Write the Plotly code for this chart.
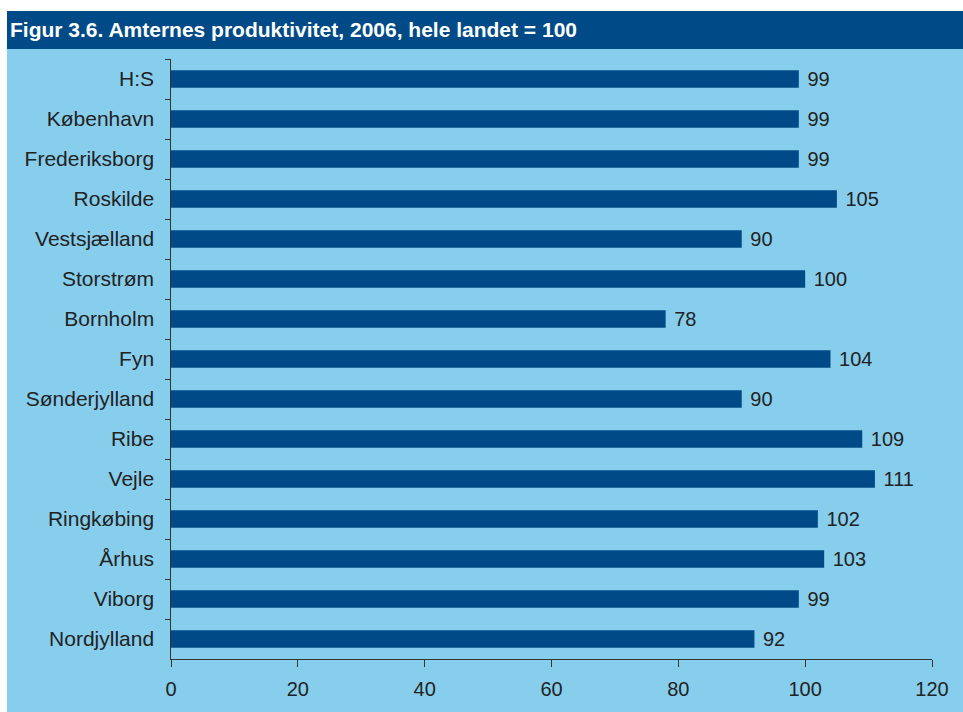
import plotly.graph_objects as go

categories = ["H:S", "København", "Frederiksborg", "Roskilde", "Vestsjælland",
              "Storstrøm", "Bornholm", "Fyn", "Sønderjylland", "Ribe", "Vejle",
              "Ringkøbing", "Århus", "Viborg", "Nordjylland"]
values = [99, 99, 99, 105, 90, 100, 78, 104, 90, 109, 111, 102, 103, 99, 92]
x_ticks = [0, 20, 40, 60, 80, 100, 120]
title_text = "Figur 3.6. Amternes produktivitet, 2006, hele landet = 100"

W, H = 963, 712
L, R, T, B = 171, 31, 59, 53
pw, ph = W - L - R, H - T - B

def px(x):
    return (x - L) / pw

def py(y):
    return (H - B - y) / ph

light = "#87CEED"
dark = "#004B87"
txt = "#222222"
font = "Liberation Sans, Arial, sans-serif"

fig = go.Figure(go.Bar(
    y=categories, x=values, orientation="h",
    marker=dict(color=dark, line=dict(width=0)),
    text=[str(v) for v in values], texttemplate=" %{text}", textposition="outside",
    constraintext="none",
    textfont=dict(family=font, size=20, color=txt),
    cliponaxis=False, hoverinfo="skip",
))

fig.update_layout(
    width=W, height=H,
    margin=dict(l=L, r=R, t=T, b=B, pad=0),
    paper_bgcolor=light, plot_bgcolor="rgba(0,0,0,0)",
    bargap=0.56, showlegend=False,
    font=dict(family=font, size=20, color=txt),
    xaxis=dict(range=[0, 120], tickvals=x_ticks, ticks="outside", ticklen=7,
               tickcolor="#333", showline=True, linecolor="#333", linewidth=1,
               showgrid=False, zeroline=False, fixedrange=True, ticklabelstandoff=5,
               tickfont=dict(size=20, color=txt)),
    yaxis=dict(autorange="reversed", ticks="outside", ticklen=5, tickcolor="#333",
               tickson="boundaries", showline=True, linecolor="#333", linewidth=1,
               showgrid=False, fixedrange=True, tickfont=dict(size=21, color=txt),
               ticksuffix="  "),
    shapes=[
        dict(type="rect", xref="paper", yref="paper", x0=px(0), x1=px(W),
             y0=py(0), y1=py(11), fillcolor="white", line=dict(width=0), layer="below"),
        dict(type="rect", xref="paper", yref="paper", x0=px(0), x1=px(7),
             y0=py(H), y1=py(0), fillcolor="white", line=dict(width=0), layer="below"),
        dict(type="rect", xref="paper", yref="paper", x0=px(7), x1=px(W),
             y0=py(49), y1=py(11), fillcolor=dark, line=dict(width=0), layer="below"),
    ],
    annotations=[dict(text="<b>" + title_text + "</b>", xref="paper", yref="paper",
                      x=px(8), y=py(30), xanchor="left", yanchor="middle",
                      showarrow=False, font=dict(family=font, size=21, color="white"))],
)

fig.write_html("out.html", config={"displayModeBar": False, "staticPlot": True},
               post_script="document.body.style.margin='0';document.body.style.overflow='hidden';")
